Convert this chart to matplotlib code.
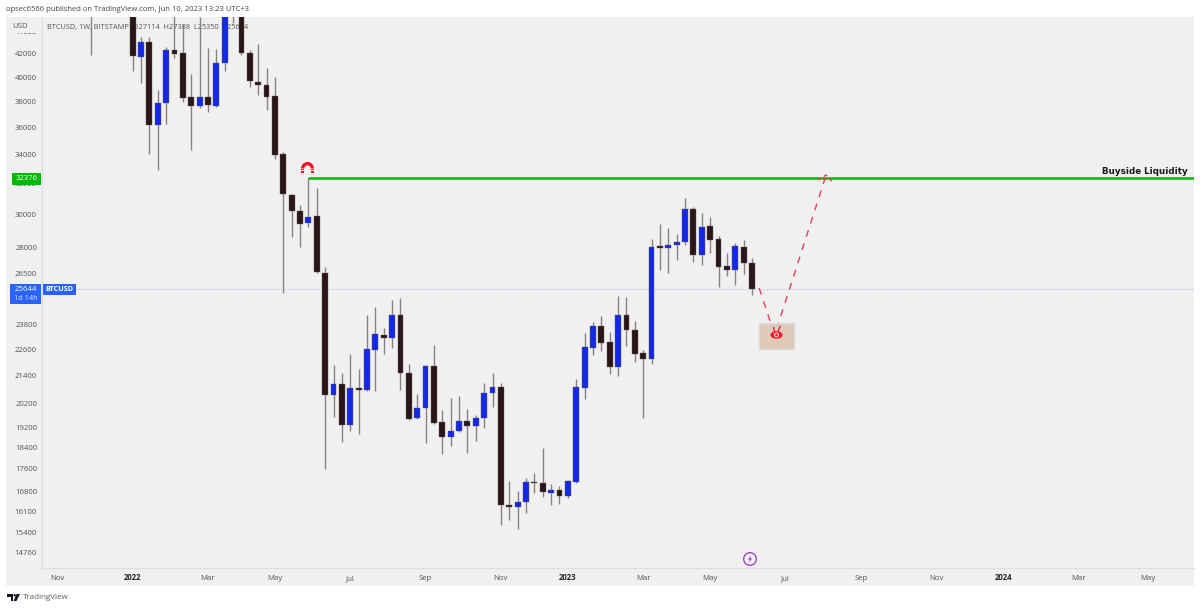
import matplotlib
matplotlib.use("Agg")
import matplotlib.pyplot as plt
import matplotlib.dates as mdates
from matplotlib.patches import Rectangle, Wedge, Circle, Ellipse, Polygon
from matplotlib.ticker import NullLocator
import pandas as pd

plt.rcParams['font.family'] = ['Open Sans', 'DejaVu Sans']

# Weekly candles (the first ones are mostly above the pane)
week_start = "2021-11-29"
opens = [57300, 49300, 50000, 46700, 50800,
         47700, 41760, 43070, 36216, 37900, 42354, 42090, 38380, 37660,
         38380, 37660, 41215, 46800, 46000, 42090, 39607, 39360,
         38460, 34058, 31253, 30221, 29470, 29906, 26538, 20548, 21028,
         19296, 20852, 20764, 22580, 23303, 23157, 24301, 21518, 19580,
         19995, 21836, 19417, 18817, 19054, 19458, 19256, 19580, 20635,
         20896, 16316, 16248, 16419, 17122, 17087, 16732, 16837,
         16627, 17122, 20852, 22676, 23746, 22960, 21791, 24301, 23547,
         22440, 22159, 28084, 27966, 28143, 28320, 30347, 27559,
         29286, 28497, 26930, 26704, 28030, 27114]
highs = [59200, 51900, 50500, 51800, 52100,
         47900, 43526, 43526, 38947, 42620, 45800, 44750, 40278, 45400,
         42530, 42440, 47000, 48200, 47000, 42354, 42890, 40785,
         40025, 34200, 31290, 30604, 32376, 31715, 26874, 21882, 21518,
         22393, 21699, 24301, 24712, 23647, 25076, 25182, 21928, 20592,
         21880, 22820, 19911, 20419, 20505, 19953, 19705, 21072, 21518,
         21072, 17157, 16802, 17264, 17448, 18385, 17052, 16980,
         17180, 21248, 23400, 23946, 24250, 23449, 25288, 25235, 23996,
         22580, 28497, 29409, 29163, 28799, 31056, 30473, 30095,
         29844, 28679, 27675, 28260, 28438, 27388]
lows = [41900, 46800, 45600, 45900, 46000,
        40530, 39525, 34058, 32933, 36270, 41650, 37980, 34343, 37500,
        37190, 37580, 40530, 44800, 41910, 39195, 38540, 37348,
        33700, 25448, 28619, 28025, 29225, 26538, 17595, 19622, 18620,
        19054, 18936, 20720, 20721, 22393, 22676, 20764, 19500, 19540,
        18581, 19340, 18157, 18465, 19015, 18195, 18659, 19175, 20037,
        15646, 15810, 15515, 16044, 16732, 16592, 16316, 16350,
        16557, 17100, 20376, 22346, 22533, 21473, 21384, 22772, 22020,
        19580, 21928, 26704, 26538, 27270, 28143, 27157, 26987,
        27675, 25770, 26372, 25878, 26480, 25350]
closes = [49300, 50000, 46700, 50800, 47700,
          41825, 43070, 36216, 37900, 42354, 42000, 38300, 37660, 38380,
          37740, 41215, 46800, 46000, 42090, 39690, 39360, 38380,
          33990, 31319, 30221, 29409, 29844, 26593, 20548, 21028, 19296,
          20852, 20764, 22628, 23352, 23157, 24301, 21518, 19539, 19995,
          21836, 19377, 18817, 19054, 19458, 19256, 19580, 20635, 20896,
          16316, 16248, 16419, 17122, 17087, 16767, 16837, 16627,
          17157, 20896, 22724, 23746, 22915, 21791, 24301, 23547, 22393,
          22159, 28020, 27966, 28143, 28320, 30347, 27559, 29225,
          28438, 26874, 26704, 28084, 27100, 25644]

price_ticks = [44000, 42000, 40000, 38000, 36000, 34000, 32000, 30000, 28000, 26500,
               23800, 22600, 21400, 20200, 19200, 18400, 17600, 16800, 16100, 15400, 14760]
time_ticks = ["2021-11-01", "2022-01-03", "2022-03-07", "2022-05-02", "2022-07-04", "2022-09-05",
              "2022-11-07", "2023-01-02", "2023-03-06", "2023-05-01", "2023-07-03", "2023-09-04",
              "2023-11-06", "2024-01-01", "2024-03-04", "2024-05-01"]
time_labels = ["Nov", "2022", "Mar", "May", "Jul", "Sep", "Nov", "2023", "Mar", "May",
               "Jul", "Sep", "Nov", "2024", "Mar", "May"]

liquidity_level = 32376
liquidity_start = "2022-05-30"
last_price = 25644

# Red dashed projection and its target box
path_dates = ["2023-06-11", "2023-06-24", "2023-08-06"]
path_prices = [25715, 23300, 32590]
head_dates = ["2023-07-30", "2023-08-06", "2023-08-11"]
head_prices = [32250, 32590, 32120]
box_dates = ["2023-06-11", "2023-07-10"]
box_prices = [22628, 23896]

BG = "#f0f0f0"
LINE = "#dedede"
TXT = "#555555"
UP = "#1428e8"
DOWN = "#2a1616"
WICK = "#8a8080"
GREEN = "#00b806"
BLUE = "#2962ff"
RED = "#f23a52"

W, H = 1200, 609
fig = plt.figure(figsize=(W / 100, H / 100), dpi=100, facecolor="white")

# Same pixel grid as the picture, for everything outside the data
px = fig.add_axes([0, 0, 1, 1], zorder=0)
px.set_xlim(0, W)
px.set_ylim(H, 0)
px.axis("off")
px.add_patch(Rectangle((6, 17), 1188, 569, fc=BG, ec="none"))

# Price pane: log scale, 8.37 px per week, last candle at x=752
ax = fig.add_axes([42 / W, 1 - 568 / H, (1194 - 42) / W, (568 - 17) / H], zorder=1)
ax.patch.set_alpha(0)
dates = pd.date_range(week_start, periods=len(opens), freq="7D")
x = mdates.date2num(dates)
week_px = 8.37
ax.set_xlim(x[-1] - (752 - 42) / week_px * 7, x[-1] + (1194 - 752) / week_px * 7)
ax.set_yscale("log")
ax.set_ylim(14296, 45387)

colors = [UP if c >= o else DOWN for o, c in zip(opens, closes)]
bottoms = [min(o, c) for o, c in zip(opens, closes)]
heights = [abs(c - o) for o, c in zip(opens, closes)]
ax.text(47 / W, 1 - 27 / H, "BTCUSD, 1W, BITSTAMP  O27114  H27388  L25350  C25644", transform=fig.transFigure,
        fontsize=5.3, color=TXT, va="center", zorder=1)
ax.vlines(x, lows, highs, color=WICK, lw=1, zorder=2)
ax.bar(x, heights, bottom=bottoms, width=4.9, color=colors, edgecolor="#6b5f5f", linewidth=0.3, zorder=3)

ax.axhline(last_price, color="#a6bcf0", lw=0.7, ls=(0, (1, 1.5)), zorder=1)
ax.hlines(liquidity_level, x[list(dates).index(pd.Timestamp(liquidity_start))], ax.get_xlim()[1],
          color=GREEN, lw=1.8, zorder=4)
ax.text(1188 / W, 1 - 171 / H, "Buyside Liquidity", transform=fig.transFigure, ha="right", va="center",
        fontsize=6.3, fontweight="bold", family="DejaVu Sans", color="#1a1a1a", zorder=5)

# Projection first, the box sits over it
ax.plot(mdates.date2num(pd.to_datetime(path_dates)), path_prices, color=RED, lw=1,
        ls=(0, (5, 5)), zorder=4)
ax.plot(mdates.date2num(pd.to_datetime(head_dates)), head_prices, color=RED, lw=1,
        ls=(0, (3, 2)), zorder=4)
bx = mdates.date2num(pd.to_datetime(box_dates))
ax.add_patch(Rectangle((bx[0], box_prices[0]), bx[1] - bx[0], box_prices[1] - box_prices[0],
                       fc="#dfc9b9", ec="#dcdcdc", lw=1, zorder=5))

ax.set_yticks(price_ticks)
ax.set_yticklabels([str(p) for p in price_ticks])
ax.yaxis.set_minor_locator(NullLocator())
ax.set_xticks(mdates.date2num(pd.to_datetime(time_ticks)))
ax.set_xticklabels(time_labels)
ax.tick_params(axis="y", length=0, pad=3.6, labelsize=5.6, labelcolor=TXT)
ax.tick_params(axis="x", length=0, pad=8.6, labelsize=5.6, labelcolor=TXT)
for lab in ax.get_xticklabels():
    lab.set_verticalalignment("baseline")
    if lab.get_text().isdigit():
        lab.set_fontweight("bold")
        lab.set_color("#222222")
for side in ["top", "right"]:
    ax.spines[side].set_visible(False)
for side in ["left", "bottom"]:
    ax.spines[side].set_color(LINE)
    ax.spines[side].set_linewidth(1)

# Overlay for labels and icons that sit above the pane
top = fig.add_axes([0, 0, 1, 1], zorder=2)
top.set_xlim(0, W)
top.set_ylim(H, 0)
top.axis("off")

top.add_patch(Rectangle((6, 19), 35, 14, fc=BG, ec="none"))
top.text(20, 26, "USD", fontsize=5.6, color=TXT, ha="center", va="center")
top.add_patch(Rectangle((12, 173), 29, 12, fc=GREEN, ec="none"))
top.text(26.5, 179, "32376", fontsize=5.6, color="white", ha="center", va="center")
top.add_patch(Rectangle((10, 284), 31, 20, fc=BLUE, ec="none"))
top.text(25.5, 289.5, "25644", fontsize=5.6, color="white", ha="center", va="center")
top.text(25.5, 298.5, "1d 14h", fontsize=5.3, color="#dce6ff", ha="center", va="center")
top.add_patch(Rectangle((43, 284), 33, 11, fc=BLUE, ec="none"))
top.text(59.5, 289.5, "BTCUSD", fontsize=5.2, color="white", ha="center", va="center", fontweight="bold")

top.text(6, 9.5, "opsec6566 published on TradingView.com, Jun 10, 2023 13:23 UTC+3", fontsize=5.5,
         color="#444444", va="center")

# Magnet
top.add_patch(Wedge((307.5, 168.5), 6.5, 180, 360, width=3.3, fc="#ff0a24", ec="none"))
for left in [301, 310.7]:
    top.add_patch(Rectangle((left, 168.5), 3.3, 1.5, fc="#ff0a24", ec="none"))
    top.add_patch(Rectangle((left, 171), 3.3, 2, fc="#ff0a24", ec="none"))

# Eye in the box
top.add_patch(Ellipse((776.5, 335), 12, 7.5, fc="#f0142c", ec="none"))
top.add_patch(Circle((776.5, 335), 2.6, fc="#f8c8c0", ec="none"))
top.add_patch(Circle((776.5, 335), 1.3, fc="#f0142c", ec="none"))
top.plot([774.5, 773.5], [331.5, 327.5], color="#f0142c", lw=0.9)
top.plot([778, 780], [331.5, 326.5], color="#f0142c", lw=0.9)

# Lightning mark above the time axis
top.add_patch(Circle((750, 559), 6.3, fc="#f6f6f6", ec="#a63ec6", lw=1))
top.add_patch(Polygon([(751.5, 555), (747.8, 559.6), (749.8, 559.6), (748.5, 563), (752.2, 558.4),
                       (750.2, 558.4)], fc="#a63ec6", ec="none"))

# TradingView logo
top.add_patch(Polygon([(6.5, 594), (13, 594), (13, 601), (10.5, 601), (10.5, 596.5), (6.5, 596.5)],
                      fc="#131722", ec="none"))
top.add_patch(Circle((14.7, 595.3), 1.2, fc="#131722", ec="none"))
top.add_patch(Polygon([(16.5, 594), (20, 594), (16.5, 601), (13.6, 601)], fc="#131722", ec="none"))
top.text(22.5, 597.5, "TradingView", fontsize=5.8, color="#5a5a5a", va="center")

fig.savefig("out.png", dpi=100)
